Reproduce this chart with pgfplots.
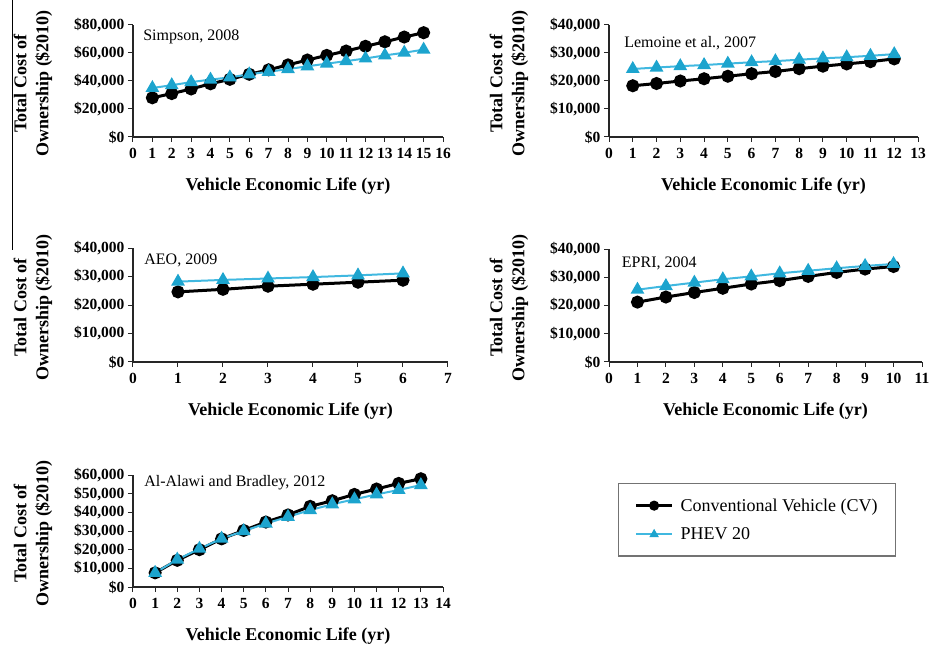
\documentclass[border=0pt]{standalone}
\usepackage{pgfplots}
\pgfplotsset{compat=1.18}
\usepackage{fontspec}
\setmainfont{Liberation Serif}
\definecolor{phevline}{RGB}{64,184,224}
\definecolor{phevmark}{RGB}{28,164,206}

\pgfplotsset{
  panel/.style={
    scale only axis,
    axis lines=left,
    axis line style={-, line width=1.2pt, black!85},
    tick style={line width=1.0pt, black!85},
    tick align=outside,
    major tick length=5pt,
    ymin=0, xmin=0,
    scaled y ticks=false,
    /pgf/number format/assume math mode=true,
    tick label style={font=\fontsize{15.5}{15.5}\selectfont\bfseries},
    xticklabel style={yshift=-3pt},
    yticklabel={\$\pgfmathprintnumber[fixed,precision=0,1000 sep={,}]{\tick}},
    label style={font=\fontsize{18}{22}\selectfont\bfseries},
    xlabel={Vehicle Economic Life (yr)},
    ylabel={Total Cost of\\Ownership (\$2010)},
    xlabel style={at={([yshift=-49pt]axis description cs:0.5,0)}, anchor=center},
    ylabel style={at={([xshift=-100pt]axis description cs:0,0.48)}, anchor=center, align=center},
    clip=false,
    legend image code/.code={\draw[mark repeat=2,mark phase=2,#1] plot coordinates {(0pt,0pt) (18pt,0pt) (36pt,0pt)};},
  },
  cv/.style={black, line width=3pt, mark=*, mark size=5pt, mark options={solid, fill=black}},
  phev/.style={phevline, line width=2pt, mark=triangle*, mark size=6pt, mark options={solid, fill=phevmark, draw=phevmark}},
}
\tikzset{ttl/.style={anchor=west, font=\fontsize{16}{16}\selectfont}}

\begin{document}
\begin{tikzpicture}
\path[use as bounding box] (0,0) rectangle (930pt,646pt);
\draw[line width=1.3pt] (12.5pt,646pt) -- (12.5pt,396pt);

% Panel 1: Simpson
\begin{axis}[panel, at={(133pt,509pt)}, anchor=south west, width=310pt, height=112pt,
  xmax=16, ymax=80000, xtick={0,...,16}, ytick={0,20000,...,80000}]
\addplot[cv] coordinates {(1,28000) (2,31000) (3,34300) (4,38000) (5,41200) (6,44800) (7,48000) (8,51500) (9,55000) (10,58300) (11,61400) (12,64800) (13,68000) (14,71400) (15,74500)};
\addplot[phev] coordinates {(1,35000) (2,37000) (3,39200) (4,41000) (5,42600) (6,44800) (7,46600) (8,48500) (9,50500) (10,52400) (11,54200) (12,56100) (13,58300) (14,60200) (15,62400)};
\node[ttl] at (rel axis cs:0.022,0.893) {Simpson, 2008};
\end{axis}

% Panel 2: Lemoine
\begin{axis}[panel, at={(609pt,509pt)}, anchor=south west, width=309pt, height=112pt,
  xmax=13, ymax=40000, xtick={0,...,13}, ytick={0,10000,...,40000}]
\addplot[cv] coordinates {(1,18300) (2,19100) (3,20000) (4,20800) (5,21700) (6,22600) (7,23400) (8,24400) (9,25300) (10,26100) (11,26900) (12,27900)};
\addplot[phev] coordinates {(1,24300) (2,24800) (3,25300) (4,25700) (5,26200) (6,26700) (7,27100) (8,27600) (9,28100) (10,28500) (11,29000) (12,29600)};
\node[ttl] at (rel axis cs:0.038,0.839) {Lemoine et al., 2007};
\end{axis}

% Panel 3: AEO
\begin{axis}[panel, at={(133pt,284pt)}, anchor=south west, width=315pt, height=114pt,
  xmax=7, ymax=40000, xtick={0,...,7}, ytick={0,10000,...,40000}]
\addplot[cv] coordinates {(1,24600) (2,25500) (3,26600) (4,27300) (5,28000) (6,28700)};
\addplot[phev] coordinates {(1,28200) (2,28800) (3,29300) (4,29800) (5,30400) (6,31100)};
\node[ttl] at (rel axis cs:0.025,0.895) {AEO, 2009};
\end{axis}

% Panel 4: EPRI
\begin{axis}[panel, at={(609pt,284pt)}, anchor=south west, width=313pt, height=113pt,
  xmax=11, ymax=40000, xtick={0,...,11}, ytick={0,10000,...,40000}]
\addplot[cv] coordinates {(1,21200) (2,23000) (3,24600) (4,26100) (5,27600) (6,28800) (7,30300) (8,31700) (9,32900) (10,33800)};
\addplot[phev] coordinates {(1,25600) (2,26900) (3,28100) (4,29300) (5,30300) (6,31400) (7,32300) (8,33200) (9,34000) (10,34700)};
\node[ttl] at (rel axis cs:0.030,0.876) {EPRI, 2004};
\end{axis}

% Panel 5: Al-Alawi
\begin{axis}[panel, at={(133pt,59pt)}, anchor=south west, width=310pt, height=112pt,
  xmax=14, ymax=60000, xtick={0,...,14}, ytick={0,10000,...,60000},
  legend style={at={(rel axis cs:1.5645,0.9286)}, anchor=north west, draw=black!55, line width=1.3pt,
    font=\fontsize{18}{21}\selectfont, inner xsep=16pt, inner ysep=13pt, row sep=11pt, column sep=5pt, cells={anchor=west}},
  legend image post style={mark size=3.5pt}]
\addplot[cv] coordinates {(1,7600) (2,14300) (3,20000) (4,25800) (5,30300) (6,34800) (7,38600) (8,43200) (9,46200) (10,49600) (11,52500) (12,55500) (13,58000)};
\addplot[phev] coordinates {(1,7600) (2,14700) (3,20500) (4,25900) (5,30000) (6,34000) (7,37600) (8,41200) (9,44300) (10,47000) (11,49600) (12,52000) (13,54600)};
\legend{Conventional Vehicle (CV), PHEV 20}
\node[ttl] at (rel axis cs:0.025,0.929) {Al-Alawi and Bradley, 2012};
\end{axis}
\end{tikzpicture}
\end{document}
